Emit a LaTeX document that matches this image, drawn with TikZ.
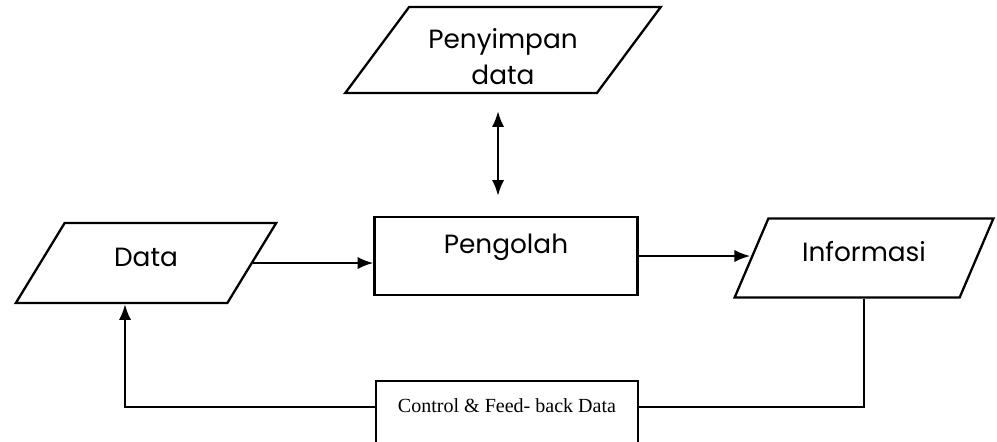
\documentclass[tikz,border=0pt]{standalone}
\usepackage{fontspec}
\setmainfont{Poppins}
\newfontfamily\ctrlfont{Liberation Serif}
\usetikzlibrary{shapes.geometric,arrows.meta}

\begin{document}
\begin{tikzpicture}[x=0.02cm, y=-0.02cm, line width=1.3pt,
    >={Latex[length=9pt,width=7pt]},
    iobox/.style={draw, trapezium, trapezium stretches=true, inner sep=0pt,
      align=center, font=\fontsize{15}{21}\selectfont},
    procbox/.style={draw, rectangle, inner sep=0pt,
      font=\fontsize{15}{21}\selectfont}]
  \useasboundingbox (0,0) rectangle (997,441);
  % nodes
  \node[iobox, trapezium left angle=54, trapezium right angle=126,
    minimum width=6.32cm, minimum height=1.72cm, text height=39.8pt, text depth=0pt] (penyimpan) at (503,50) {Penyimpan\\data};
  \node[iobox, trapezium left angle=58, trapezium right angle=122,
    minimum width=5.24cm, minimum height=1.6cm, text depth=7pt] (data) at (146,263) {Data};
  \node[procbox, minimum width=5.26cm, minimum height=1.56cm, text depth=14pt] (pengolah) at (506,256) {Pengolah};
  \node[iobox, trapezium left angle=56, trapezium right angle=124,
    minimum width=5.22cm, minimum height=1.58cm, text depth=7pt] (informasi) at (864,258) {Informasi};
  \node[draw, anchor=north, inner sep=0pt, minimum width=5.24cm,
    text height=17.6pt, text depth=34pt, font=\ctrlfont\fontsize{11.4}{13}\selectfont] (control) at (507,380) {Control \& Feed- back Data};
  % connectors
  \draw[->] (data.east) -- (data.east -| pengolah.west);
  \draw[->] (pengolah.east) -- (pengolah.east -| informasi.west);
  \draw[<->, shorten <=0.34cm, shorten >=0.4cm] ([xshift=-0.1cm]penyimpan.south) -- ([xshift=-0.1cm]penyimpan.south |- pengolah.north);
  \draw (informasi.south) |- (control.mid east);
  \draw[->] (control.mid west) -| ([xshift=-0.42cm]data.south);
\end{tikzpicture}
\end{document}
